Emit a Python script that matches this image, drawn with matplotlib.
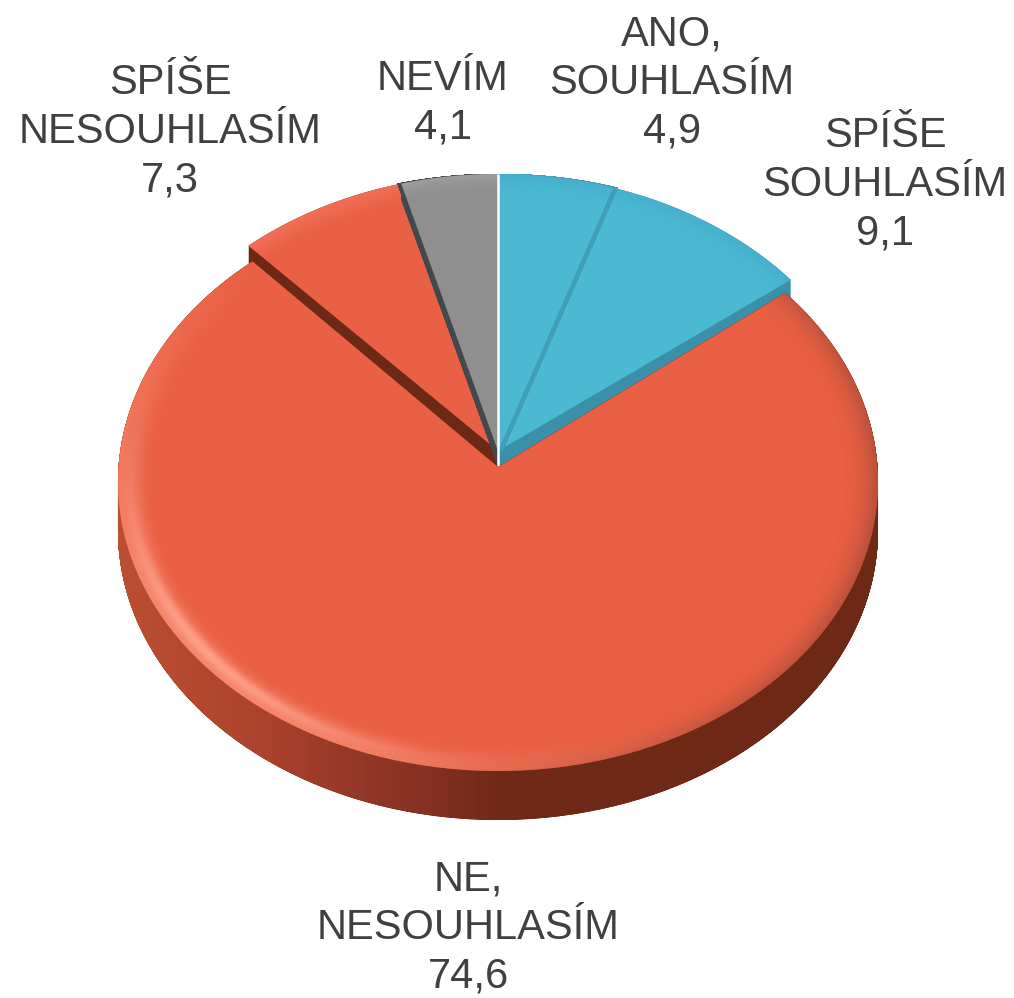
import numpy as np
import matplotlib
matplotlib.use("Agg")
import matplotlib.pyplot as plt
from matplotlib.patches import PathPatch
from matplotlib.path import Path
from matplotlib.transforms import Affine2D
from matplotlib.colors import LinearSegmentedColormap, to_rgb

categories = ["ANO,\nSOUHLASÍM", "SPÍŠE\nSOUHLASÍM", "NE,\nNESOUHLASÍM", "SPÍŠE\nNESOUHLASÍM", "NEVÍM"]
values = [4.9, 9.1, 74.6, 7.3, 4.1]
value_labels = ["4,9", "9,1", "74,6", "7,3", "4,1"]
face_colors = ["#4bb9d2", "#4bb9d2", "#e96044", "#e96044", "#8f8f8f"]
wall_colors = ["#3f9fbb", "#3a8fa9", "#6d2816", "#6d2816", "#41494c"]
label_xy = [(672, 83), (885, 185), (468, 928), (170, 132), (443, 103)]

W, H = 1014, 998
CX, RX = 498, 380
BACK_APEX, BACK_RY = 451, 292
FRONT_APEX, FRONT_RY = 467, 289
TILT = 15

plt.rcParams["font.family"] = ["Liberation Sans", "DejaVu Sans"]
fig = plt.figure(figsize=(W / 100, H / 100), dpi=100)
ax = fig.add_axes([0, 0, 1, 1])

wedges, _ = ax.pie(values, startangle=90, counterclock=False, radius=1, center=(0, 0))


def unit_polygon(w):
    p = w.get_path().transformed(w.get_patch_transform())
    return p.to_polygons(Affine2D().scale(1000))[0] / 1000


def project(poly, apex, ry):
    r = np.hypot(poly[:, 0], poly[:, 1])
    return np.column_stack([CX + RX * poly[:, 0], apex + TILT * r - ry * poly[:, 1]])


polys = [unit_polygon(w) for w in wedges]
# on the lower level the large slice's rim reaches a little further round
big = 2
wedges[big].set_theta1(wedges[big].theta1 - 0.8)
wedges[big].set_theta2(wedges[big].theta2 + 1.3)
big_poly = unit_polygon(wedges[big])
for w in wedges:
    w.remove()


def sweep(poly, shifts, n):
    parts = []
    for shift in shifts:
        parts += [Path(poly + np.array(shift) * t) for t in np.linspace(0, 1, n)]
    return Path.make_compound_path(*parts)


def add_path(path, color, z):
    patch = PathPatch(path, facecolor=color, edgecolor="none", lw=0, zorder=z)
    ax.add_patch(patch)
    return patch


def clipped_image(rgba, patch, z):
    im = ax.imshow(rgba, extent=(0, W, H, 0), origin="upper", interpolation="bilinear",
                   aspect="auto", zorder=z)
    im.set_clip_path(patch)


xx, yy = np.meshgrid(np.arange(W) + 0.5, np.arange(H) + 0.5)


def ring(cy, ry):
    u = (xx - CX) / RX
    v = (yy - cy) / ry
    return u, v, np.hypot(u, v) + 1e-6


def layer(color, alpha):
    rgba = np.zeros((H, W, 4))
    rgba[..., :3] = to_rgb(color)
    rgba[..., 3] = np.clip(alpha, 0, 1)
    return rgba


# back slices: level of the upper faces, small walls
order = [3, 4, 1, 0]
wall_shift = {3: [(0, 20)], 4: [(-4, 0), (0, 16)], 1: [(0, 20)], 0: [(5, 0)]}
z = 2
u_b, v_b, r_b = ring(BACK_APEX + TILT, BACK_RY)
t_b = np.clip((r_b - 0.93) / 0.07, 0, 1)
for i in order:
    face = project(polys[i], BACK_APEX, BACK_RY)
    add_path(sweep(face, wall_shift[i], 30), wall_colors[i], z)
    patch = add_path(Path(face), face_colors[i], z + 0.1)
    if i == 3:
        clipped_image(layer("#f77a68", 0.55 * t_b), patch, z + 0.2)
    elif i in (0, 1):
        clipped_image(layer("#3f9cc0", 0.35 * t_b ** 1.5), patch, z + 0.2)
    else:
        clipped_image(layer("#b5b5b5", 0.4 * t_b ** 2), patch, z + 0.2)
    z += 1

# white seam between the last and the first slice
seam_start = project(np.array([[0.0, 0.0]]), FRONT_APEX, BACK_RY)[0]
seam_end = project(np.array([[0.0, 1.0]]), BACK_APEX, BACK_RY)[0]
ax.plot([seam_start[0], seam_end[0]], [seam_start[1], seam_end[1]], color="white", lw=1.8,
        zorder=z, solid_capstyle="butt")
z += 1

# large slice: deep wall with a horizontal gradient, bevelled face
front_face = project(big_poly, FRONT_APEX, FRONT_RY)
wall_path = sweep(front_face, [(0, 49)], 100)
wall_patch = add_path(wall_path, wall_colors[big], z)
wall_cmap = LinearSegmentedColormap.from_list(
    "wall",
    [(0.0, "#bb4f33"), (0.18, "#ad432c"), (0.31, "#953828"), (0.42, "#822f22"),
     (0.5, "#702a18"), (1.0, "#6d2816")])
wall_rgba = wall_cmap(np.clip((xx - (CX - RX)) / (2 * RX), 0, 1))
clipped_image(wall_rgba, wall_patch, z + 0.1)
z += 1

face_patch = add_path(Path(front_face), face_colors[big], z)
u, v, r = ring(FRONT_APEX + TILT, FRONT_RY)
lit = np.clip((-0.8 * u + 0.6 * v) / r, 0, 1)
unlit = np.clip((0.85 * u + 0.1 * v) / r + 0.15, 0, 1)
t = np.clip((r - 0.91) / 0.09, 0, 1)
glow = 0.55 * t * lit ** 1.2 + 0.6 * np.exp(-((r - 0.965) / 0.02) ** 2) * lit ** 6
clipped_image(layer("#ffa48c", glow), face_patch, z + 0.1)
shade = 0.75 * np.clip((r - 0.9) / 0.1, 0, 1) ** 2.2 * unlit
clipped_image(layer("#a84a38", shade), face_patch, z + 0.2)
z += 1

for name, val, (lx, ly) in zip(categories, value_labels, label_xy):
    ax.text(lx, ly, f"{name}\n{val}", ha="center", va="center", fontsize=30,
            color="#404040", linespacing=1.29, zorder=z)

ax.set_aspect("auto")
ax.set_xlim(0, W)
ax.set_ylim(H, 0)
ax.axis("off")
fig.savefig("out.png", dpi=100, facecolor="white")
